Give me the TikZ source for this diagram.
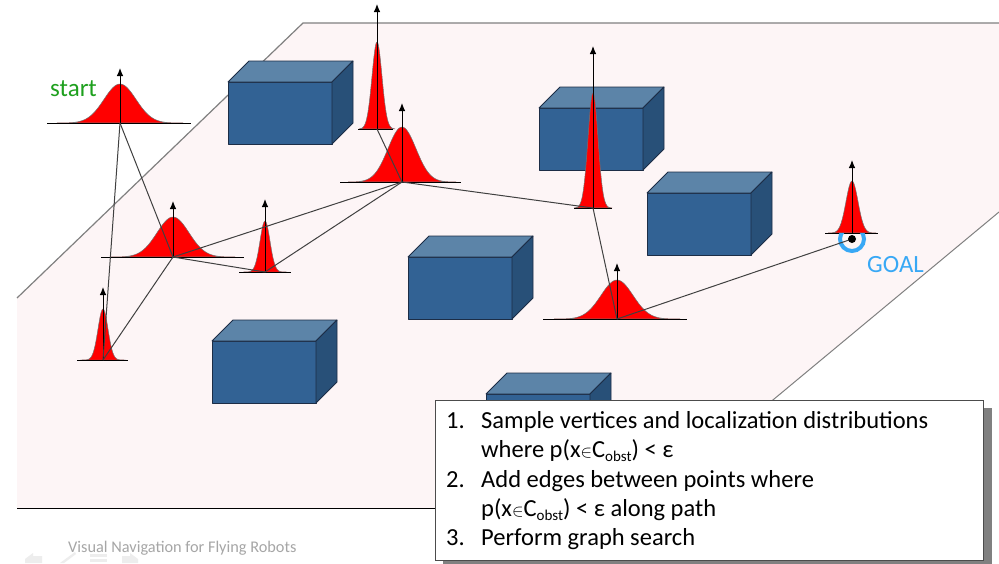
\documentclass[tikz,border=0pt]{standalone}
\usepackage{fontspec}
\setmainfont{Carlito}
\usetikzlibrary{arrows.meta}
\definecolor{plane}{RGB}{253,245,246}
\definecolor{boxfront}{RGB}{50,98,148}
\definecolor{boxtop}{RGB}{92,132,168}
\definecolor{boxside}{RGB}{40,80,120}
\definecolor{boxedge}{RGB}{28,45,70}
\definecolor{goalblue}{RGB}{56,168,245}
\definecolor{startgreen}{RGB}{30,160,30}
\tikzset{
  edge/.style={draw=black!75, line width=1pt},
  baseln/.style={draw=black, line width=0.9pt},
  gcurve/.style={fill=red, draw=black!55, line width=0.5pt},
  uparrow/.style={draw=black, line width=0.9pt, -{Latex[length=8pt,width=6.5pt]}},
  cubeface/.style={draw=boxedge, line width=0.8pt, line join=round},
  listtext/.style={anchor=base west, inner sep=0pt, font=\fontsize{24.5}{24.5}\selectfont},
  faint/.style={fill=black!7},
}
\newcommand{\mycube}[2]{%
  \path[cubeface, fill=boxfront] (#1,#2) rectangle ++(104,62);
  \path[cubeface, fill=boxtop] (#1,#2) -- ++(21,-21) -- ++(104,0) -- ++(-21,21) -- cycle;
  \path[cubeface, fill=boxside] ({#1+104},#2) -- ++(21,-21) -- ++(0,62) -- ++(-21,21) -- cycle;
}
% name, cx, cy, height, sigma, red half width, base left, base right, arrow top
\newcommand{\gauss}[9]{%
  \coordinate (#1) at (#2,#3);
  \draw[gcurve] plot[domain=-#6:#6, samples=90, smooth] ({#2+\x},{#3-#4*exp(-((\x)*(\x))/(2*#5*#5))}) -- cycle;
  \draw[baseln] ({#2-#7},#3) -- ({#2+#8},#3);
  \draw[uparrow] (#1) -- (#2,#9);
}
\newcommand{\pxc}{p(x{\fontsize{17}{17}\selectfont$\in$}C\raisebox{-4.5pt}{\fontsize{15}{15}\selectfont obst})}
\begin{document}
\begin{tikzpicture}[x=1pt,y=-1pt]
\useasboundingbox (0,0) rectangle (999,563);
\fill[white] (0,0) rectangle (999,563);
% floor plane
\fill[plane] (303,23) -- (999,23) -- (999,212) -- (643,508) -- (17,508) -- (17,298) -- cycle;
\draw[black!50, line width=1.2pt] (17,298) -- (303,23) -- (999,23);
\draw[black!50, line width=1pt] (999,212) -- (643,508);
\draw[black, line width=1pt] (17,508) -- (643,508);
% obstacles
\mycube{228}{82}
\mycube{539}{108}
\mycube{647}{193}
\mycube{408}{257}
\mycube{212}{341}
\mycube{486}{394}
% distributions
\gauss{S}{120}{123}{39}{16}{63}{73}{71}{68}
\gauss{A}{377}{129}{87}{5}{18}{19}{16}{4}
\gauss{B}{402}{182}{55}{14}{54}{62}{59}{103}
\gauss{C}{173}{257}{40}{16}{62}{72}{71}{201}
\gauss{D}{265}{272}{51}{5}{22}{26}{26}{199}
\gauss{E}{593}{208}{115}{5}{19}{19}{19}{46}
\gauss{F}{852}{233}{52}{6}{24}{27}{26}{160}
\gauss{G}{617}{319}{39}{16}{63}{74}{70}{263}
\gauss{H}{103}{360}{51}{5}{23}{26}{25}{287}
% goal marker
\coordinate (goal) at (852,239);
\begin{scope}
  \clip (820,233.5) rectangle (885,270);
  \draw[goalblue, line width=4pt] (goal) circle[radius=12pt];
\end{scope}
% roadmap edges
\draw[edge] (S) -- (H);
\draw[edge] (S) -- (C);
\draw[edge] (C) -- (H);
\draw[edge] (C) -- (B);
\draw[edge] (C) -- (D);
\draw[edge] (D) -- (B);
\draw[edge] (A) -- (B);
\draw[edge] (B) -- (E);
\draw[edge] (E) -- (G);
\draw[edge] (G) -- (goal);
\fill[black] (goal) circle[radius=4pt];
% labels
\node[text=startgreen, anchor=base west, inner sep=0pt, font=\fontsize{25}{25}\selectfont] (startlbl) at (50,96) {start};
\node[text=goalblue, anchor=base west, inner sep=0pt, font=\fontsize{24.8}{24.8}\selectfont] (goallbl) at (867,272) {GOAL};
% text box
\fill[black!50] (443,408) rectangle (992,570);
\node[draw=black!70, fill=white, line width=0.8pt, minimum width=548pt, minimum height=160pt, anchor=north west, inner sep=0pt] (tbox) at (435,400) {};
\node[listtext] (n1) at (446,428) {1.};
\node[listtext] (t1) at (481,428) {Sample vertices and localization distributions};
\node[listtext] (t1b) at (481,457) {where \pxc{} < ε};
\node[listtext] (n2) at (446,487) {2.};
\node[listtext] (t2) at (481,487) {Add edges between points where};
\node[listtext] (t2b) at (481,516) {\pxc{} < ε along path};
\node[listtext] (n3) at (446,545) {3.};
\node[listtext] (t3) at (481,545) {Perform graph search};
% footer
\node[text=black!35, anchor=base west, inner sep=0pt, font=\fontsize{16.3}{16.3}\selectfont] (footer) at (68,552) {Visual Navigation for Flying Robots};
\fill[faint] (25,559) -- (33,553) -- (33,556) -- (42,556) -- (42,563) -- (25,563) -- cycle;
\fill[faint] (60,563) -- (75,552) -- (76,554) -- (64,563) -- cycle;
\fill[faint] (90,554) rectangle (107,557);
\fill[faint] (90,559) rectangle (107,562);
\fill[faint] (138,559) -- (130,553) -- (130,556) -- (122,556) -- (122,563) -- (138,563) -- cycle;
\end{tikzpicture}
\end{document}
